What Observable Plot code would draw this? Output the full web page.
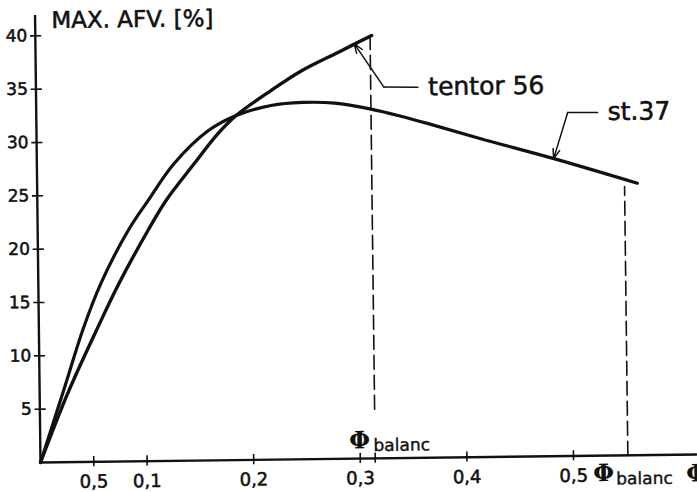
<!DOCTYPE html>
<html>
<head>
<meta charset="utf-8">
<script src="https://cdn.jsdelivr.net/npm/d3@7"></script>
<script src="https://cdn.jsdelivr.net/npm/@observablehq/plot@0.6"></script>
<style>
  html, body { margin: 0; padding: 0; background: #fff; }
  #chart svg { display: block; }
</style>
</head>
<body>
<div id="chart"></div>
<script>
// ---- data ----
const tentorX = [0, 0.0262, 0.0552, 0.0755, 0.1033, 0.1206, 0.1473, 0.170, 0.1875, 0.2204, 0.249, 0.2837, 0.3155];
const tentorY = [0, 6.43, 12.58, 16.67, 21.6, 24.4, 27.8, 30.6, 32.3, 34.6, 36.4, 38.1, 39.65];

const st37X = [0, 0.0225, 0.042, 0.0586, 0.0846, 0.1037, 0.1286, 0.161, 0.1875, 0.2203, 0.25, 0.28, 0.314, 0.342, 0.370, 0.4166, 0.485, 0.563];
const st37Y = [0, 6.72, 12.6, 16.7, 21.6, 24.4, 27.85, 30.9, 32.3, 33.2, 33.45, 33.35, 32.75, 32.05, 31.25, 29.85, 27.9, 25.5];

const yTicks = [5, 10, 15, 20, 25, 30, 35, 40];
const xTicks = [0.05, 0.1, 0.2, 0.3, 0.4, 0.5];
const xTickLabels = ["0,5", "0,1", "0,2", "0,3", "0,4", "0,5"];

// balance points (Φbalanc) for each material
const phiTentor = 0.314;
const phiTentorTop = 39.5;
const phiSt37 = 0.551;
const phiSt37Top = 25.2;

const titleText = "MAX. AFV. [%]";
const seriesNames = ["tentor 56", "st.37"];

// annotation leader points: arrow start, arrow tip on curve, shelf end, label position
const tentorLeader = {from: [0.3264, 34.8], tip: [0.299, 38.9], shelf: [0.3583, 34.75], label: [0.368, 34.74]};
const st37Leader = {from: [0.4985, 32.2], tip: [0.4848, 27.9], shelf: [0.5266, 32.17], label: [0.536, 32.2]};

// ---- build ----
const tentor = tentorX.map((x, i) => ({x, y: tentorY[i]}));
const st37 = st37X.map((x, i) => ({x, y: st37Y[i]}));
const allTicksX = [...xTicks, phiTentor];

const font = "DejaVu Sans, sans-serif";
const serif = "DejaVu Serif, serif";
const ink = "#111";
const txt = {fontFamily: font, fill: ink, stroke: ink, strokeWidth: 0.55};

const dash = (x, y1, y2) => [{x, y: y1}, {x, y: y2}];

const plot = Plot.plot({
  width: 697,
  height: 492,
  marginLeft: 40,
  marginRight: 0,
  marginTop: 14,
  marginBottom: 30,
  style: {fontFamily: font, background: "#fff", color: ink},
  x: {domain: [0, 0.6163], axis: null},
  y: {domain: [0, 42], axis: null},
  marks: [
    // axes lines
    Plot.ruleY([0], {x1: 0, x2: 0.64, stroke: ink, strokeWidth: 2.4}),
    Plot.ruleX([0], {y1: 0, y2: 41.9, stroke: ink, strokeWidth: 2.4}),
    // crossing ticks
    Plot.ruleY(yTicks, {x1: -0.0045, x2: 0.006, stroke: ink, strokeWidth: 1.6}),
    Plot.ruleX(allTicksX, {y1: -0.45, y2: 0.5, stroke: ink, strokeWidth: 1.6}),
    // tick labels
    Plot.text(yTicks, {x: 0, y: d => d, text: d => String(d), dx: -8, textAnchor: "end", fontSize: 17, ...txt}),
    Plot.text(xTicks, {x: d => d, y: 0, text: (d, i) => xTickLabels[i], dy: 20, fontSize: 18, ...txt}),
    // dashed balance lines
    Plot.line(dash(phiTentor, 4.6, phiTentorTop), {x: "x", y: "y", stroke: ink, strokeWidth: 1.6, strokeDasharray: "14,6"}),
    Plot.line(dash(phiSt37, 0, phiSt37Top), {x: "x", y: "y", stroke: ink, strokeWidth: 1.6, strokeDasharray: "14,6"}),
    // curves
    Plot.line(st37, {x: "x", y: "y", stroke: ink, strokeWidth: 3.2, curve: "catmull-rom"}),
    Plot.line(tentor, {x: "x", y: "y", stroke: ink, strokeWidth: 3.4, curve: "catmull-rom"}),
    // leaders
    Plot.arrow([tentorLeader], {x1: d => d.from[0], y1: d => d.from[1], x2: d => d.tip[0], y2: d => d.tip[1],
      stroke: ink, strokeWidth: 1.5, headLength: 10, headAngle: 40}),
    Plot.line([tentorLeader.from, tentorLeader.shelf], {x: d => d[0], y: d => d[1], stroke: ink, strokeWidth: 1.5}),
    Plot.arrow([st37Leader], {x1: d => d.from[0], y1: d => d.from[1], x2: d => d.tip[0], y2: d => d.tip[1],
      stroke: ink, strokeWidth: 1.5, headLength: 10, headAngle: 40}),
    Plot.line([st37Leader.from, st37Leader.shelf], {x: d => d[0], y: d => d[1], stroke: ink, strokeWidth: 1.5}),
    // labels
    Plot.text([seriesNames[0]], {x: tentorLeader.label[0], y: tentorLeader.label[1], text: d => d,
      textAnchor: "start", fontSize: 25, ...txt}),
    Plot.text([seriesNames[1]], {x: st37Leader.label[0], y: st37Leader.label[1], text: d => d,
      textAnchor: "start", fontSize: 25, ...txt}),
    Plot.text([titleText], {x: 0.0152, y: 41.4, text: d => d, textAnchor: "start", fontSize: 23, ...txt}),
    // Φbalanc labels
    Plot.text(["Φ"], {x: 0.3014, y: 1.69, text: d => d, fontSize: 24, fontWeight: "bold", fontFamily: serif, fill: ink, dx: -2}),
    Plot.text(["balanc"], {x: 0.3097, y: 0.69, text: d => d, textAnchor: "start", lineAnchor: "bottom", dx: 3, fontSize: 17, ...txt, strokeWidth: 0.4}),
    Plot.text(["Φ"], {x: 0.530, y: -1.68, text: d => d, fontSize: 24, fontWeight: "bold", fontFamily: serif, fill: ink, dx: -2}),
    Plot.text(["balanc"], {x: 0.537, y: -2.72, text: d => d, textAnchor: "start", lineAnchor: "bottom", dx: 3, fontSize: 17, ...txt, strokeWidth: 0.4}),
    Plot.text(["Φ"], {x: 0.611, y: -1.79, text: d => d, fontSize: 24, fontWeight: "bold", fontFamily: serif, fill: ink,
      textAnchor: "start", dx: -6})
  ]
});

plot.style.transformOrigin = "40px 462px";
plot.style.transform = "rotate(-0.7deg)";
document.getElementById("chart").appendChild(plot);
</script>
</body>
</html>
